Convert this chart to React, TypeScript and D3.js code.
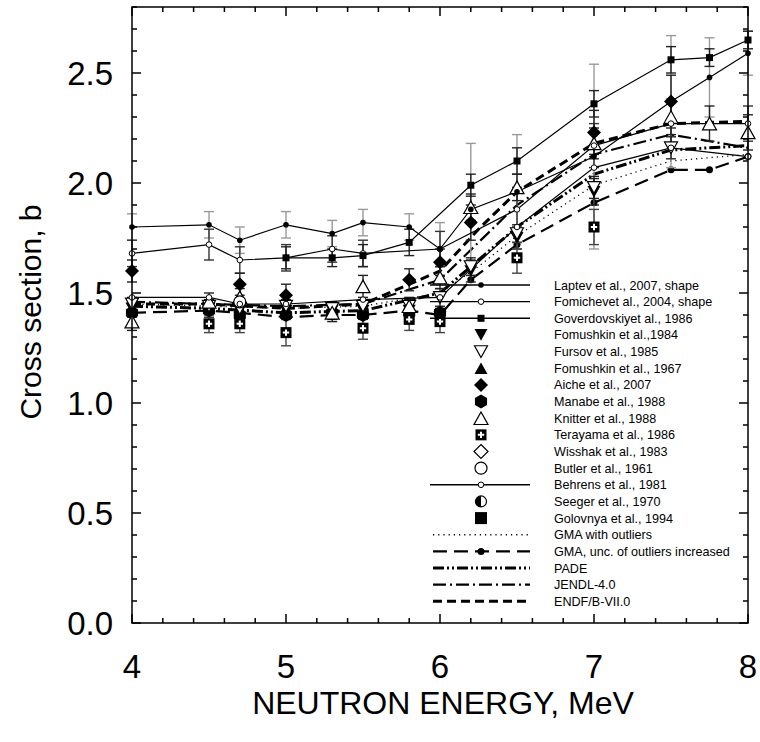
import React, { useEffect, useRef } from "react";
import * as d3 from "d3";

const width = 760;
const height = 742;

// experimental data (energy in MeV, cross section in b)
const laptevE = [4.0, 4.5, 4.7, 5.0, 5.3, 5.5, 5.8, 6.0, 6.2, 6.5, 7.0, 7.5, 7.75, 8.0];
const laptevY = [1.80, 1.81, 1.74, 1.81, 1.77, 1.82, 1.80, 1.70, 1.88, 1.96, 2.12, 2.37, 2.48, 2.59];
const laptevErr = [0.06, 0.06, 0.06, 0.06, 0.06, 0.06, 0.06, 0.12, 0.30, 0.26, 0.42, 0.30, 0.18, 0.10];

const fomichevE = [4.0, 4.5, 4.7, 5.0, 5.3, 5.5, 6.0, 6.5, 7.0, 7.5, 8.0];
const fomichevY = [1.68, 1.72, 1.65, 1.66, 1.70, 1.68, 1.70, 1.88, 2.17, 2.27, 2.27];
const fomichevErr = [0.06, 0.07, 0.06, 0.06, 0.06, 0.06, 0.08, 0.10, 0.10, 0.10, 0.08];

const goverE = [5.0, 5.3, 5.5, 5.8, 6.2, 6.5, 7.0, 7.5, 7.75, 8.0];
const goverY = [1.66, 1.66, 1.67, 1.73, 1.99, 2.10, 2.36, 2.56, 2.57, 2.65];
const goverErr = [0.05, 0.04, 0.05, 0.06, 0.05, 0.06, 0.06, 0.06, 0.04, 0.04];

const behrensE = [4.0, 4.5, 4.7, 5.0, 5.5, 6.0, 6.5, 7.0, 7.5, 8.0];
const behrensY = [1.48, 1.48, 1.45, 1.45, 1.47, 1.48, 1.80, 2.07, 2.16, 2.12];

const fom84E = [4.0, 4.5, 4.7, 5.0, 5.3, 5.5, 5.8, 6.0, 6.2, 6.5, 7.0];
const fom84Y = [1.43, 1.43, 1.42, 1.42, 1.42, 1.42, 1.42, 1.39, 1.60, 1.75, 1.96];
const fom84Err = [0.04, 0.04, 0.04, 0.04, 0.04, 0.04, 0.04, 0.04, 0.05, 0.05, 0.06];

const fursovE = [4.0, 4.5, 4.7, 5.0, 5.3, 5.5, 5.8, 6.0, 6.2, 6.5, 7.0, 7.5];
const fursovY = [1.45, 1.44, 1.43, 1.44, 1.43, 1.44, 1.44, 1.48, 1.62, 1.77, 1.98, 2.16];
const fursovErr = [0.03, 0.03, 0.03, 0.03, 0.03, 0.03, 0.03, 0.04, 0.04, 0.04, 0.05, 0.05];

const fom67E = [4.5, 5.0, 5.5];
const fom67Y = [1.44, 1.43, 1.42];

const aicheE = [4.0, 4.7, 5.0, 5.8, 6.0, 6.2, 7.0, 7.5];
const aicheY = [1.60, 1.54, 1.49, 1.56, 1.64, 1.82, 2.23, 2.37];
const aicheErr = [0.05, 0.05, 0.05, 0.05, 0.06, 0.08, 0.10, 0.12];

const manabeE = [4.0, 4.5, 4.7, 5.0, 5.3, 5.5, 5.8, 6.0];
const manabeY = [1.41, 1.42, 1.40, 1.40, 1.41, 1.40, 1.41, 1.41];

const knitterE = [4.0, 4.5, 4.7, 5.3, 5.5, 5.8, 6.0, 6.2, 6.5, 7.0, 7.5, 7.75, 8.0];
const knitterY = [1.37, 1.46, 1.48, 1.41, 1.53, 1.44, 1.57, 1.89, 1.98, 2.18, 2.30, 2.27, 2.23];
const knitterErr = [0.04, 0.04, 0.04, 0.04, 0.05, 0.04, 0.05, 0.06, 0.06, 0.07, 0.08, 0.08, 0.08];

const terayamaE = [4.5, 4.7, 5.0, 5.5, 5.8, 6.0, 6.5, 7.0];
const terayamaY = [1.36, 1.36, 1.32, 1.34, 1.38, 1.37, 1.66, 1.80];
const terayamaErr = [0.04, 0.04, 0.06, 0.05, 0.05, 0.05, 0.07, 0.08];

const butlerE = [4.7];
const butlerY = [1.46];

// evaluations
const evalE = [4.0, 4.5, 5.0, 5.5, 6.0, 6.25, 6.5, 7.0, 7.5, 8.0];
const gmaOutY = [1.45, 1.44, 1.43, 1.44, 1.50, 1.62, 1.76, 1.99, 2.10, 2.13];
const padeY = [1.44, 1.43, 1.41, 1.42, 1.50, 1.65, 1.80, 2.04, 2.15, 2.17];
const jendlY = [1.46, 1.45, 1.44, 1.45, 1.56, 1.73, 1.90, 2.13, 2.22, 2.16];
const endfY = [1.45, 1.45, 1.43, 1.45, 1.60, 1.79, 1.96, 2.18, 2.27, 2.28];
const gmaUncE = [4.0, 4.5, 4.7, 5.0, 5.3, 5.5, 5.8, 6.0, 6.2, 6.5, 7.0, 7.5, 7.75, 8.0];
const gmaUncY = [1.41, 1.42, 1.41, 1.39, 1.40, 1.40, 1.42, 1.40, 1.56, 1.72, 1.91, 2.06, 2.06, 2.12];

const xTicks = [4, 5, 6, 7, 8];
const yTicks = [0.0, 0.5, 1.0, 1.5, 2.0, 2.5];

const legendLabels = [
  "Laptev et al., 2007, shape",
  "Fomichevet al., 2004, shape",
  "Goverdovskiyet al., 1986",
  "Fomushkin et al.,1984",
  "Fursov et al., 1985",
  "Fomushkin et al., 1967",
  "Aiche et al., 2007",
  "Manabe et al., 1988",
  "Knitter et al., 1988",
  "Terayama et al., 1986",
  "Wisshak et al., 1983",
  "Butler et al., 1961",
  "Behrens et al., 1981",
  "Seeger et al., 1970",
  "Golovnya et al., 1994",
  "GMA with outliers",
  "GMA, unc. of outliers increased",
  "PADE",
  "JENDL-4.0",
  "ENDF/B-VII.0",
];

const font = "Liberation Sans, Arial, sans-serif";

function triPath(s: number, down: boolean) {
  const h = s * 0.45;
  return down
    ? `M${-s / 2},${-h}L${s / 2},${-h}L0,${h}Z`
    : `M${-s / 2},${h}L${s / 2},${h}L0,${-h}Z`;
}
function diamondPath(s: number) {
  return `M0,${-s / 2}L${s / 2},0L0,${s / 2}L${-s / 2},0Z`;
}
function hexPath(r: number) {
  const pts = d3.range(6).map(i => {
    const a = Math.PI / 3 * i - Math.PI / 2;
    return [r * Math.cos(a), r * Math.sin(a)];
  });
  return "M" + pts.map(p => p.join(",")).join("L") + "Z";
}

export default function App() {
  const svgRef = useRef<SVGSVGElement>(null);

  useEffect(() => {
    const svg = d3.select(svgRef.current);
    svg.selectAll("*").remove();

    const x = d3.scaleLinear().domain([4, 8]).range([132, 748]);
    const y = d3.scaleLinear().domain([0, 2.8]).range([623, 7]);

    const root = svg.append("g");
    const plot = root.append("g");

    const line = (es: number[], ys: number[]) =>
      d3.line<number>().x((_, i) => x(es[i])).y(d => y(d))(ys) as string;

    // evaluated curves
    const evalStyles: [number[], number[], string, number][] = [
      [evalE, gmaOutY, "1.2,4", 1.3],
      [gmaUncE, gmaUncY, "14,7", 2.2],
      [evalE, padeY, "11,3,2,3,2,3", 3],
      [evalE, jendlY, "13,4,2,4", 2.2],
      [evalE, endfY, "9,5", 3],
    ];
    evalStyles.forEach(([es, ys, dash, w]) => {
      plot.append("path")
        .attr("d", line(es, ys))
        .attr("fill", "none")
        .attr("stroke", "#000")
        .attr("stroke-width", w)
        .attr("stroke-dasharray", dash);
    });
    plot.selectAll(".gmaDot").data(gmaUncY).join("circle")
      .attr("cx", (_, i) => x(gmaUncE[i])).attr("cy", d => y(d)).attr("r", 3.5).attr("fill", "#000");

    // error bars
    const errBars = (es: number[], ys: number[], errs: number[], color: string) => {
      const g = plot.append("g").attr("stroke", color).attr("stroke-width", 1.4);
      ys.forEach((v, i) => {
        const cx = x(es[i]);
        const t = y(v + errs[i]);
        const b = y(v - errs[i]);
        g.append("line").attr("x1", cx).attr("x2", cx).attr("y1", t).attr("y2", b);
        g.append("line").attr("x1", cx - 5).attr("x2", cx + 5).attr("y1", t).attr("y2", t);
        g.append("line").attr("x1", cx - 5).attr("x2", cx + 5).attr("y1", b).attr("y2", b);
      });
    };
    errBars(laptevE, laptevY, laptevErr, "#9a9a9a");
    errBars(fomichevE, fomichevY, fomichevErr, "#333");
    errBars(goverE, goverY, goverErr, "#222");
    errBars(fom84E, fom84Y, fom84Err, "#222");
    errBars(fursovE, fursovY, fursovErr, "#222");
    errBars(aicheE, aicheY, aicheErr, "#222");
    errBars(knitterE, knitterY, knitterErr, "#222");
    errBars(terayamaE, terayamaY, terayamaErr, "#444");

    // connected experimental series
    const solid: [number[], number[]][] = [
      [laptevE, laptevY], [fomichevE, fomichevY], [goverE, goverY], [behrensE, behrensY],
    ];
    solid.forEach(([es, ys]) => {
      plot.append("path").attr("d", line(es, ys)).attr("fill", "none")
        .attr("stroke", "#000").attr("stroke-width", 1.2);
    });

    const pts = (es: number[], ys: number[]) => ys.map((v, i) => [x(es[i]), y(v)] as [number, number]);

    const drawMarker = (g: any, kind: string, cx: number, cy: number) => {
      const t = `translate(${cx},${cy})`;
      switch (kind) {
        case "dot":
          g.append("circle").attr("cx", cx).attr("cy", cy).attr("r", 2.8).attr("fill", "#000"); break;
        case "odot":
          g.append("circle").attr("cx", cx).attr("cy", cy).attr("r", 2.8).attr("fill", "#fff").attr("stroke", "#000").attr("stroke-width", 1); break;
        case "sqsmall":
          g.append("rect").attr("x", cx - 3.5).attr("y", cy - 3.5).attr("width", 7).attr("height", 7).attr("fill", "#000"); break;
        case "tridown":
          g.append("path").attr("d", triPath(13, true)).attr("transform", t).attr("fill", "#000"); break;
        case "otridown":
          g.append("path").attr("d", triPath(13, true)).attr("transform", t).attr("fill", "#fff").attr("stroke", "#000").attr("stroke-width", 1.2); break;
        case "triup":
          g.append("path").attr("d", triPath(13, false)).attr("transform", t).attr("fill", "#000"); break;
        case "otriup":
          g.append("path").attr("d", triPath(14, false)).attr("transform", t).attr("fill", "#fff").attr("stroke", "#000").attr("stroke-width", 1.2); break;
        case "diamond":
          g.append("path").attr("d", diamondPath(14)).attr("transform", t).attr("fill", "#000"); break;
        case "odiamond":
          g.append("path").attr("d", diamondPath(14)).attr("transform", t).attr("fill", "#fff").attr("stroke", "#000").attr("stroke-width", 1.2); break;
        case "hex":
          g.append("path").attr("d", hexPath(7)).attr("transform", t).attr("fill", "#000"); break;
        case "tera":
          g.append("rect").attr("x", cx - 5.5).attr("y", cy - 5.5).attr("width", 11).attr("height", 11).attr("fill", "#000");
          g.append("path").attr("d", "M-1,-3.2H1V-1H3.2V1H1V3.2H-1V1H-3.2V-1H-1Z").attr("transform", t).attr("fill", "#fff"); break;
        case "ocircle":
          g.append("circle").attr("cx", cx).attr("cy", cy).attr("r", 6).attr("fill", "#fff").attr("stroke", "#000").attr("stroke-width", 1.2); break;
        case "half":
          g.append("circle").attr("cx", cx).attr("cy", cy).attr("r", 5.5).attr("fill", "#fff").attr("stroke", "#000").attr("stroke-width", 1.2);
          g.append("path").attr("d", "M0,-5.5A5.5,5.5 0 0 0 0,5.5Z").attr("transform", t).attr("fill", "#000"); break;
        case "square":
          g.append("rect").attr("x", cx - 6).attr("y", cy - 6).attr("width", 12).attr("height", 12).attr("fill", "#000"); break;
      }
    };

    const mk = plot.append("g");
    const seriesMarks: [number[], number[], string][] = [
      [manabeE, manabeY, "hex"],
      [fom67E, fom67Y, "triup"],
      [fom84E, fom84Y, "tridown"],
      [fursovE, fursovY, "otridown"],
      [knitterE, knitterY, "otriup"],
      [butlerE, butlerY, "ocircle"],
      [aicheE, aicheY, "diamond"],
      [terayamaE, terayamaY, "tera"],
      [behrensE, behrensY, "odot"],
      [fomichevE, fomichevY, "odot"],
      [goverE, goverY, "sqsmall"],
      [laptevE, laptevY, "dot"],
    ];
    seriesMarks.forEach(([es, ys, kind]) => {
      pts(es, ys).forEach(([cx, cy]) => drawMarker(mk, kind, cx, cy));
    });

    // legend
    const lg = root.append("g");
    const legendKinds = ["dot", "odot", "sqsmall", "tridown", "otridown", "triup", "diamond", "hex",
      "otriup", "tera", "odiamond", "ocircle", "odot", "half", "square"];
    const lineRows = [0, 1, 2, 12];
    const ly = (i: number) => 285 + i * 16.65;
    legendLabels.forEach((lab, i) => {
      if (lineRows.includes(i)) {
        lg.append("line").attr("x1", 430).attr("x2", 530).attr("y1", ly(i)).attr("y2", ly(i))
          .attr("stroke", "#000").attr("stroke-width", 1.4);
      }
      if (i < 15) drawMarker(lg, legendKinds[i], 481, ly(i));
      lg.append("text").attr("x", 554).attr("y", ly(i)).attr("dy", "0.36em")
        .attr("font-family", font).attr("font-size", 12.6).attr("fill", "#000").text(lab);
    });
    const lineLeg: [string, number][] = [["1.2,4", 1.3], ["14,7", 2.2], ["11,3,2,3,2,3", 3], ["13,4,2,4", 2.2], ["9,5", 3]];
    lineLeg.forEach(([dash, w], j) => {
      const yy = ly(15 + j);
      lg.append("line").attr("x1", 433).attr("x2", 530).attr("y1", yy).attr("y2", yy)
        .attr("stroke", "#000").attr("stroke-width", w).attr("stroke-dasharray", dash);
      if (j === 1) lg.append("circle").attr("cx", 481).attr("cy", yy).attr("r", 3.5).attr("fill", "#000");
    });

    // frame and ticks
    const ax = root.append("g").attr("stroke", "#000").attr("stroke-width", 1.5);
    ax.append("rect").attr("x", 132).attr("y", 7).attr("width", 616).attr("height", 616).attr("fill", "none");
    d3.range(4, 8.001, 0.2).forEach(v => {
      const major = Math.abs(v - Math.round(v)) < 1e-6;
      const len = major ? 9 : 5;
      ax.append("line").attr("x1", x(v)).attr("x2", x(v)).attr("y1", 623).attr("y2", 623 - len);
      ax.append("line").attr("x1", x(v)).attr("x2", x(v)).attr("y1", 7).attr("y2", 7 + len);
    });
    d3.range(0, 2.8001, 0.1).forEach(v => {
      const major = Math.abs(v * 2 - Math.round(v * 2)) < 1e-6;
      const len = major ? 9 : 5;
      ax.append("line").attr("x1", 132).attr("x2", 132 + len).attr("y1", y(v)).attr("y2", y(v));
      ax.append("line").attr("x1", 748).attr("x2", 748 - len).attr("y1", y(v)).attr("y2", y(v));
    });

    const tx = root.append("g").attr("font-family", font).attr("fill", "#000");
    xTicks.forEach(v => {
      tx.append("text").attr("x", x(v)).attr("y", 678).attr("text-anchor", "middle")
        .attr("font-size", 33).text(d3.format("d")(v));
    });
    yTicks.forEach(v => {
      tx.append("text").attr("x", 113).attr("y", y(v)).attr("dy", "0.36em").attr("text-anchor", "end")
        .attr("font-size", 33).text(d3.format(".1f")(v));
    });
    tx.append("text").attr("x", 443).attr("y", 714).attr("text-anchor", "middle")
      .attr("font-size", 32).text("NEUTRON ENERGY, MeV");
    tx.append("text").attr("transform", "translate(41,312) rotate(-90)").attr("text-anchor", "middle")
      .attr("font-size", 30).text("Cross section, b");
  }, []);

  return (
    <svg
      ref={svgRef}
      width={width}
      height={height}
      style={{ position: "absolute", left: 0, top: 0, background: "#fff" }}
    />
  );
}
